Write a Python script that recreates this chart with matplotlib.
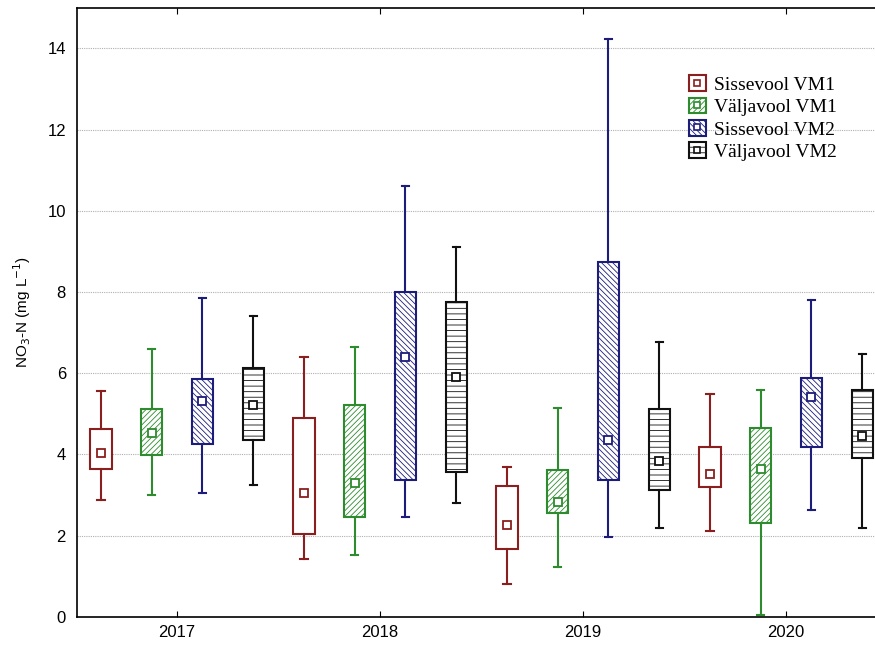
import numpy as np
import matplotlib
matplotlib.use("Agg")
import matplotlib.pyplot as plt
from matplotlib.patches import Patch
from matplotlib.lines import Line2D
from matplotlib.legend_handler import HandlerTuple

years = ["2017", "2018", "2019", "2020"]
sites = ["Sissevool VM1", "Väljavool VM1", "Sissevool VM2", "Väljavool VM2"]

# whisker low, box bottom, mean, box top, whisker high per year
sis_vm1_lo = [2.89, 1.43, 0.80, 2.11]
sis_vm1_q1 = [3.65, 2.03, 1.68, 3.19]
sis_vm1_mean = [4.03, 3.04, 2.27, 3.51]
sis_vm1_q3 = [4.63, 4.89, 3.23, 4.19]
sis_vm1_hi = [5.57, 6.40, 3.68, 5.48]

val_vm1_lo = [3.01, 1.53, 1.23, 0.04]
val_vm1_q1 = [3.98, 2.47, 2.57, 2.32]
val_vm1_mean = [4.53, 3.31, 2.83, 3.65]
val_vm1_q3 = [5.12, 5.23, 3.63, 4.65]
val_vm1_hi = [6.60, 6.64, 5.15, 5.58]

sis_vm2_lo = [3.06, 2.47, 1.98, 2.64]
sis_vm2_q1 = [4.26, 3.36, 3.38, 4.19]
sis_vm2_mean = [5.31, 6.41, 4.35, 5.42]
sis_vm2_q3 = [5.85, 8.00, 8.73, 5.89]
sis_vm2_hi = [7.86, 10.60, 14.23, 7.81]

val_vm2_lo = [3.24, 2.80, 2.18, 2.19]
val_vm2_q1 = [4.35, 3.57, 3.12, 3.91]
val_vm2_mean = [5.22, 5.92, 3.83, 4.45]
val_vm2_q3 = [6.13, 7.75, 5.11, 5.58]
val_vm2_hi = [7.42, 9.11, 6.78, 6.48]

series = [
    (sis_vm1_lo, sis_vm1_q1, sis_vm1_mean, sis_vm1_q3, sis_vm1_hi),
    (val_vm1_lo, val_vm1_q1, val_vm1_mean, val_vm1_q3, val_vm1_hi),
    (sis_vm2_lo, sis_vm2_q1, sis_vm2_mean, sis_vm2_q3, sis_vm2_hi),
    (val_vm2_lo, val_vm2_q1, val_vm2_mean, val_vm2_q3, val_vm2_hi),
]
colors = ["#8b1f1f", "#2e8b2e", "#1c1c7a", "#111111"]
hatches = [None, "//////", "\\\\\\\\\\\\", "---"]
offsets = [-0.375, -0.125, 0.125, 0.375]

plt.rcParams["font.family"] = ["Liberation Sans", "DejaVu Sans"]
plt.rcParams["hatch.linewidth"] = 0.6

fig = plt.figure(figsize=(8.75, 6.46), dpi=100)
ax = fig.add_axes([0.088, 0.045, 0.912, 0.943])

x = np.arange(len(years))
for k, (lo, q1, mn, q3, hi) in enumerate(series):
    stats = []
    for i in range(len(years)):
        stats.append(dict(whislo=lo[i], q1=q1[i], med=mn[i], mean=mn[i],
                          q3=q3[i], whishi=hi[i], fliers=[]))
    c = colors[k]
    bp = ax.bxp(stats, positions=x + offsets[k], widths=0.105, capwidths=0.035,
                patch_artist=True, showmeans=True, showfliers=False,
                boxprops=dict(edgecolor=c, facecolor="white", linewidth=1.5),
                whiskerprops=dict(color=c, linewidth=1.5),
                capprops=dict(color=c, linewidth=1.5),
                medianprops=dict(linewidth=0),
                meanprops=dict(marker="s", markerfacecolor="white",
                               markeredgecolor=c, markersize=6,
                               markeredgewidth=1.3))
    for b in bp["boxes"]:
        if hatches[k]:
            b.set_hatch(hatches[k])
    for m in bp["means"]:
        m.set_zorder(5)

ax.set_xlim(-0.493, 3.438)
ax.set_ylim(0, 15)
ax.set_xticks(x)
ax.set_xticklabels(years, fontsize=12)
ax.set_yticks(np.arange(0, 15, 2))
ax.tick_params(axis="y", length=0, labelsize=12, pad=8)
ax.tick_params(axis="x", direction="in", length=4, top=True, pad=6)
ax.yaxis.grid(True, linestyle=(0, (1, 1)), color="#b0b0b0", linewidth=0.8)
ax.set_axisbelow(True)
ax.spines["right"].set_visible(False)
for s in ["left", "bottom", "top"]:
    ax.spines[s].set_linewidth(1.2)
ax.set_ylabel("NO$_3$-N (mg L$^{-1}$)", fontsize=11, labelpad=10)

handles = []
for k in range(4):
    p = Patch(facecolor="white", edgecolor=colors[k], hatch=hatches[k],
              linewidth=1.5)
    m = Line2D([], [], linestyle="", marker="s", markerfacecolor="white",
               markeredgecolor=colors[k], markersize=5, markeredgewidth=1.2)
    handles.append((p, m))
ax.legend(handles, sites, loc="upper left", bbox_to_anchor=(0.755, 0.905),
          frameon=False, prop={"family": "Liberation Serif", "size": 14},
          handler_map={tuple: HandlerTuple(ndivide=1, pad=0)},
          handlelength=0.85, handleheight=0.85, handletextpad=0.4,
          labelspacing=0.2, borderpad=0)

fig.savefig("out.png", dpi=100)
